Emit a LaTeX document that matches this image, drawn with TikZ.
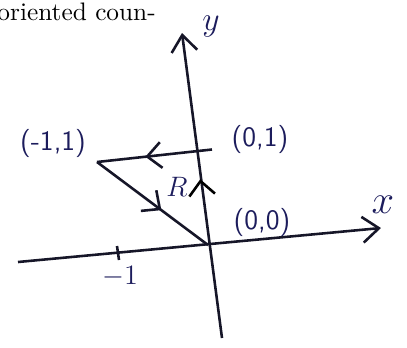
\documentclass[tikz,border=0pt]{standalone}
\usepackage{tikz}
\usetikzlibrary{arrows.meta, positioning, decorations.markings}
\usepackage{xcolor}
\definecolor{ink}{RGB}{28, 28, 92}
\definecolor{pen}{RGB}{22, 22, 40}

\tikzset{
    hand/.style={text=ink, font=\sffamily\large, inner sep=1pt},
    axis/.style={draw=pen, line width=1.1pt, -{Straight Barb[length=7pt, width=11pt, line width=1.1pt]}},
    edge/.style={draw=pen, line width=1.1pt},
    midarrow/.style={postaction={decorate}, decoration={markings,
        mark=at position #1 with {\arrow{Straight Barb[length=6pt, width=11pt, line width=1.1pt]}}}}
}

\begin{document}
\begin{tikzpicture}[x=0.015cm, y=-0.015cm]
    \useasboundingbox (0,0) rectangle (407,347);
    % Text line
    \node[anchor=base west, inner sep=0pt, font=\fontsize{10.8}{13}\selectfont] (txt) at (-3,20) {oriented coun-};

    % Axes
    \coordinate (xleft) at (18,262);
    \coordinate (xright) at (381,228);
    \coordinate (ybot) at (222,338);
    \coordinate (ytop) at (182,33);
    \draw[axis] (xleft) -- (xright);
    \draw[axis] (ybot) -- (ytop);

    % Points
    \coordinate (O) at (208,245);
    \coordinate (A) at (97,162);
    \coordinate (B) at (197,151);
    \coordinate (Bt) at (212,149.5);
    \coordinate (ta) at (117,246);
    \coordinate (tb) at (119,260);
    \draw[edge] (ta) -- (tb);

    % Triangle R
    \draw[edge, midarrow=0.58] (Bt) -- (A);
    \draw[edge, midarrow=0.58] (A) -- (O);
    \draw[draw=none, midarrow=0.7] (O) -- (B);

    % Labels
    \node[hand] (lx) at (383,205) {\LARGE $x$};
    \node[hand] (ly) at (211,27) {\Large $y$};
    \node[hand] (lA) at (53,143) {(-1,1)};
    \node[hand] (lB) at (260,139) {(0,1)};
    \node[hand] (lO) at (262,222) {(0,0)};
    \node[hand] (lR) at (177,187) {$R$};
    \node[hand] (lm) at (120,277) {$-1$};
\end{tikzpicture}
\end{document}
